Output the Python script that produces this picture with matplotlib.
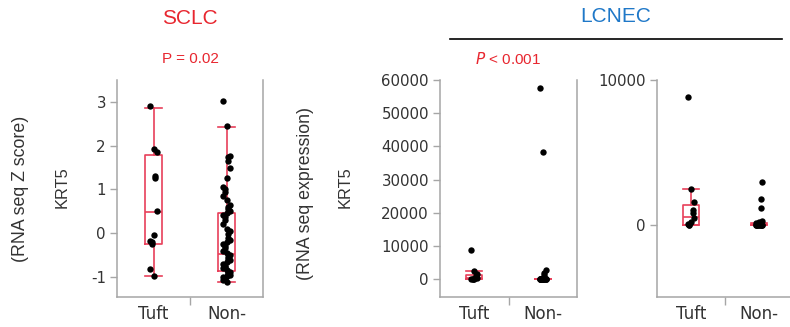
import matplotlib
matplotlib.use("Agg")
import matplotlib.pyplot as plt
import numpy as np

plt.rcParams['font.family'] = ['Liberation Sans', 'DejaVu Sans']
plt.rcParams['axes.unicode_minus'] = False

# ---------------- data ----------------
categories = ["Tuft", "Non-"]

sclc_tuft = [2.90, 1.93, 1.85, 1.30, 1.27, 0.50, -0.05, -0.17, -0.20, -0.25, -0.82, -0.97]
sclc_non = [3.02, 2.45, 1.77, 1.75, 1.65, 1.50, 1.27, 1.05, 1.00, 0.95, 0.85, 0.75,
            0.65, 0.60, 0.55, 0.50, 0.45, 0.42, 0.38, 0.30, 0.20, 0.10, 0.05, -0.02,
            -0.10, -0.15, -0.20, -0.25, -0.30, -0.35, -0.40, -0.45, -0.50, -0.55,
            -0.60, -0.62, -0.65, -0.70, -0.75, -0.78, -0.80, -0.85, -0.88, -0.90,
            -0.93, -0.95, -0.97, -1.00, -1.02, -1.05, -1.08, -1.12]
sclc_tuft_box = dict(q1=-0.25, med=0.49, q3=1.79, whislo=-0.97, whishi=2.87)
sclc_non_box = dict(q1=-0.87, med=-0.47, q3=0.45, whislo=-1.12, whishi=2.43)

lcnec_tuft = [8830, 2480, 1590, 1030, 830, 480, 200, 70, 0, 0]
lcnec_non = [57600, 38200, 2970, 1800, 1170, 250, 150, 100, 60, 30, 10,
             0, 0, 0, 0, 0, 0, 0, 0, 0]
lcnec_tuft_box = dict(q1=0, med=550, q3=1380, whislo=0, whishi=2480)
lcnec_non_box = dict(q1=0, med=10, q3=60, whislo=0, whishi=120)

sclc_yticks = [-1, 0, 1, 2, 3]
lcnec_full_yticks = [0, 10000, 20000, 30000, 40000, 50000, 60000]
lcnec_zoom_yticks = [0, 10000]

# ---------------- style ----------------
RED = '#e8262f'
BOXRED = '#e8405a'
BLUE = '#1f78c8'
SPINE = '#a6a6a6'
TXT = '#333333'
TICKFONT = ['DejaVu Sans']

W, H = 790, 327
fig = plt.figure(figsize=(W / 100, H / 100), dpi=100)


def px_axes(left, right, top, bottom):
    return fig.add_axes([left / W, 1 - bottom / H, (right - left) / W, (bottom - top) / H])


def jitter(n, amp):
    # deterministic alternating spread
    return [((i * 7) % 5 - 2) / 2 * amp * (1 if i % 2 == 0 else -1) for i in range(n)]


def draw_panel(ax, groups, boxes, ylim, yticks, right_spine=True):
    for pos, (vals, st) in enumerate(zip(groups, boxes)):
        s = dict(st)
        s['fliers'] = []
        ax.bxp([s], positions=[pos], widths=0.24, showfliers=False,
               boxprops=dict(color=BOXRED, linewidth=1.2),
               medianprops=dict(color=BOXRED, linewidth=1.2),
               whiskerprops=dict(color=BOXRED, linewidth=1.2),
               capprops=dict(color=BOXRED, linewidth=1.2),
               capwidths=0.24, zorder=2)
        offs = jitter(len(vals), 0.045)
        ax.scatter(np.array(offs) + pos, vals, s=21, color='black', zorder=3,
                   linewidths=0, clip_on=True)
    ax.set_xlim(-0.5, 1.5)
    ax.set_ylim(*ylim)
    ax.set_yticks(yticks)
    ax.set_yticklabels([str(t) for t in yticks], family=TICKFONT, fontsize=10.8, color=TXT)
    ax.set_xticks([0, 1])
    ax.set_xticklabels(categories, family=TICKFONT, fontsize=12, color=TXT)
    ax.set_xticks([0.5], minor=True)
    ax.tick_params(axis='x', which='major', length=0, pad=6)
    ax.tick_params(axis='x', which='minor', length=6, color=SPINE, width=1)
    ax.tick_params(axis='y', length=5, color=SPINE, width=1, pad=3)
    for side in ['left', 'bottom', 'right']:
        ax.spines[side].set_color(SPINE)
        ax.spines[side].set_linewidth(1.1)
    ax.spines['top'].set_visible(False)
    if not right_spine:
        ax.spines['right'].set_visible(False)


ax1 = px_axes(117, 263, 80, 297)
draw_panel(ax1, [sclc_tuft, sclc_non], [sclc_tuft_box, sclc_non_box],
           (-1.46, 3.5), sclc_yticks)

ax2 = px_axes(440, 577, 80, 297)
draw_panel(ax2, [lcnec_tuft, lcnec_non], [lcnec_tuft_box, lcnec_non_box],
           (-5300, 60000), lcnec_full_yticks)

ax3 = px_axes(657, 793, 80, 297)
draw_panel(ax3, [lcnec_tuft, lcnec_non], [lcnec_tuft_box, lcnec_non_box],
           (-5000, 10000), lcnec_zoom_yticks)

# ---------------- texts ----------------
fig.text(190 / W, 1 - 19 / H, "SCLC", color=RED, fontsize=15, ha='center', va='center')
fig.text(190 / W, 1 - 59 / H, "P = 0.02", color=RED, fontsize=11, ha='center', va='center')
fig.text(616 / W, 1 - 17 / H, "LCNEC", color=BLUE, fontsize=15, ha='center', va='center')
fig.add_artist(plt.Line2D([450 / W, 782 / W], [1 - 39 / H, 1 - 39 / H], color='black', lw=1.2))
fig.text(508 / W, 1 - 59 / H, r"$\it{P}$ < 0.001", color=RED, fontsize=11, ha='center', va='center')

fig.text(21 / W, 1 - 189 / H, "(RNA seq Z score)", rotation=90, fontsize=12.8, color=TXT,
         ha='center', va='center')
fig.text(62 / W, 1 - 187 / H, "KRT5", rotation=90, fontsize=11.8, color=TXT,
         ha='center', va='center')
fig.text(305 / W, 1 - 194 / H, "(RNA seq expression)", rotation=90, fontsize=12.8, color=TXT,
         ha='center', va='center')
fig.text(345 / W, 1 - 187 / H, "KRT5", rotation=90, fontsize=11.8, color=TXT,
         ha='center', va='center')

fig.savefig("out.png", dpi=100)
